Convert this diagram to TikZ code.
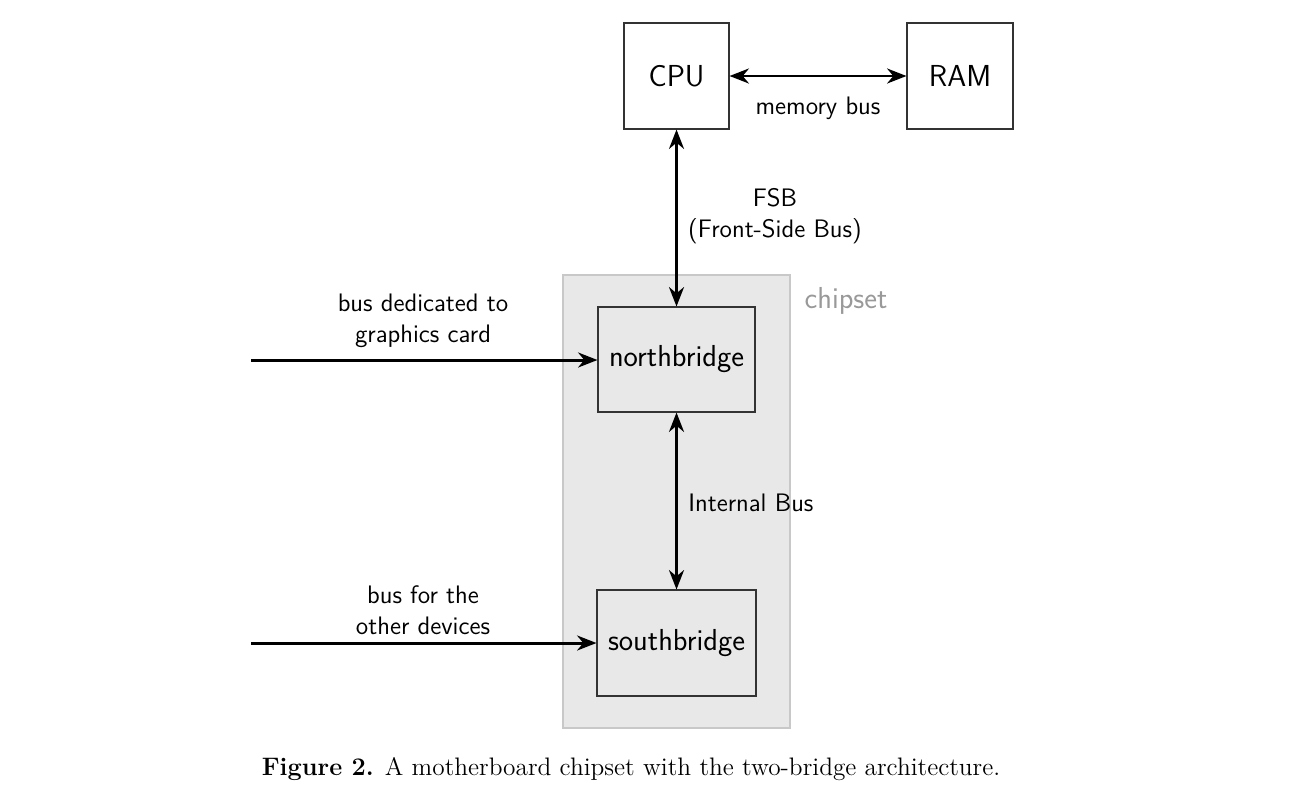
\documentclass[tikz,border=0pt]{standalone}
\usetikzlibrary{arrows.meta}
\definecolor{chipfill}{HTML}{E8E8E8}
\definecolor{chipline}{HTML}{C8C8C8}
\definecolor{chiptext}{HTML}{999999}
\tikzset{
  unitbox/.style={draw=black!80, line width=0.6pt, fill=white, inner sep=0pt, font=\sffamily\fontsize{17.28}{21}\selectfont},
  bustip/.tip={Stealth[length=11pt,width=8.5pt,inset=3.5pt]},
  bus/.style={line width=1.7pt, bustip-bustip},
  inbus/.style={line width=1.7pt, -bustip},
  lbl/.style={font=\sffamily\fontsize{14.4}{17.6}\selectfont, align=center, inner sep=0pt},
}
\begin{document}
\begin{tikzpicture}[x=0.02cm,y=-0.02cm]
\useasboundingbox (0,0) rectangle (1293,795);
% chipset region
\node[draw=chipline, fill=chipfill, line width=0.6pt, minimum width=227*0.02cm, minimum height=453*0.02cm, inner sep=0pt] (chip) at (676.5,501.5) {};
\node[font=\sffamily\fontsize{17.28}{21}\selectfont, text=chiptext, inner sep=0pt] (chiplbl) at (846,301) {chipset};
% boxes
\node[unitbox, minimum width=105*0.02cm, minimum height=106*0.02cm] (cpu) at (676.5,76) {CPU};
\node[unitbox, minimum width=106*0.02cm, minimum height=106*0.02cm] (ram) at (960,76) {RAM};
\node[unitbox, fill=chipfill, minimum width=157*0.02cm, minimum height=105*0.02cm] (nb) at (676.5,359.5) {northbridge};
\node[unitbox, fill=chipfill, minimum width=159*0.02cm, minimum height=106*0.02cm] (sb) at (676.5,643) {southbridge};
% free ends
\coordinate (gfx) at (251,360);
\coordinate (oth) at (251,643);
% connectors
\draw[bus] (cpu.east) -- (ram.west) node[midway, below=11pt, lbl] (memlbl) {memory bus};
\draw[bus] (cpu.south) -- (nb.north);
\node[lbl] (fsblbl) at (775,216) {FSB\\(Front-Side Bus)};
\draw[bus] (nb.south) -- (sb.north);
\node[lbl, anchor=west] (intlbl) at (688,503) {Internal Bus};
\draw[inbus] (gfx) -- (nb.west |- gfx);
\node[lbl] (gfxlbl) at (423,321) {bus dedicated to\\graphics card};
\draw[inbus] (oth) -- (sb.west |- oth);
\node[lbl] (othlbl) at (423,610) {bus for the\\other devices};
% caption
\node[font=\fontsize{14.4}{17}\selectfont, inner sep=0pt] (cap) at (631,769) {\textbf{Figure 2.} A motherboard chipset with the two-bridge architecture.};
\end{tikzpicture}
\end{document}
